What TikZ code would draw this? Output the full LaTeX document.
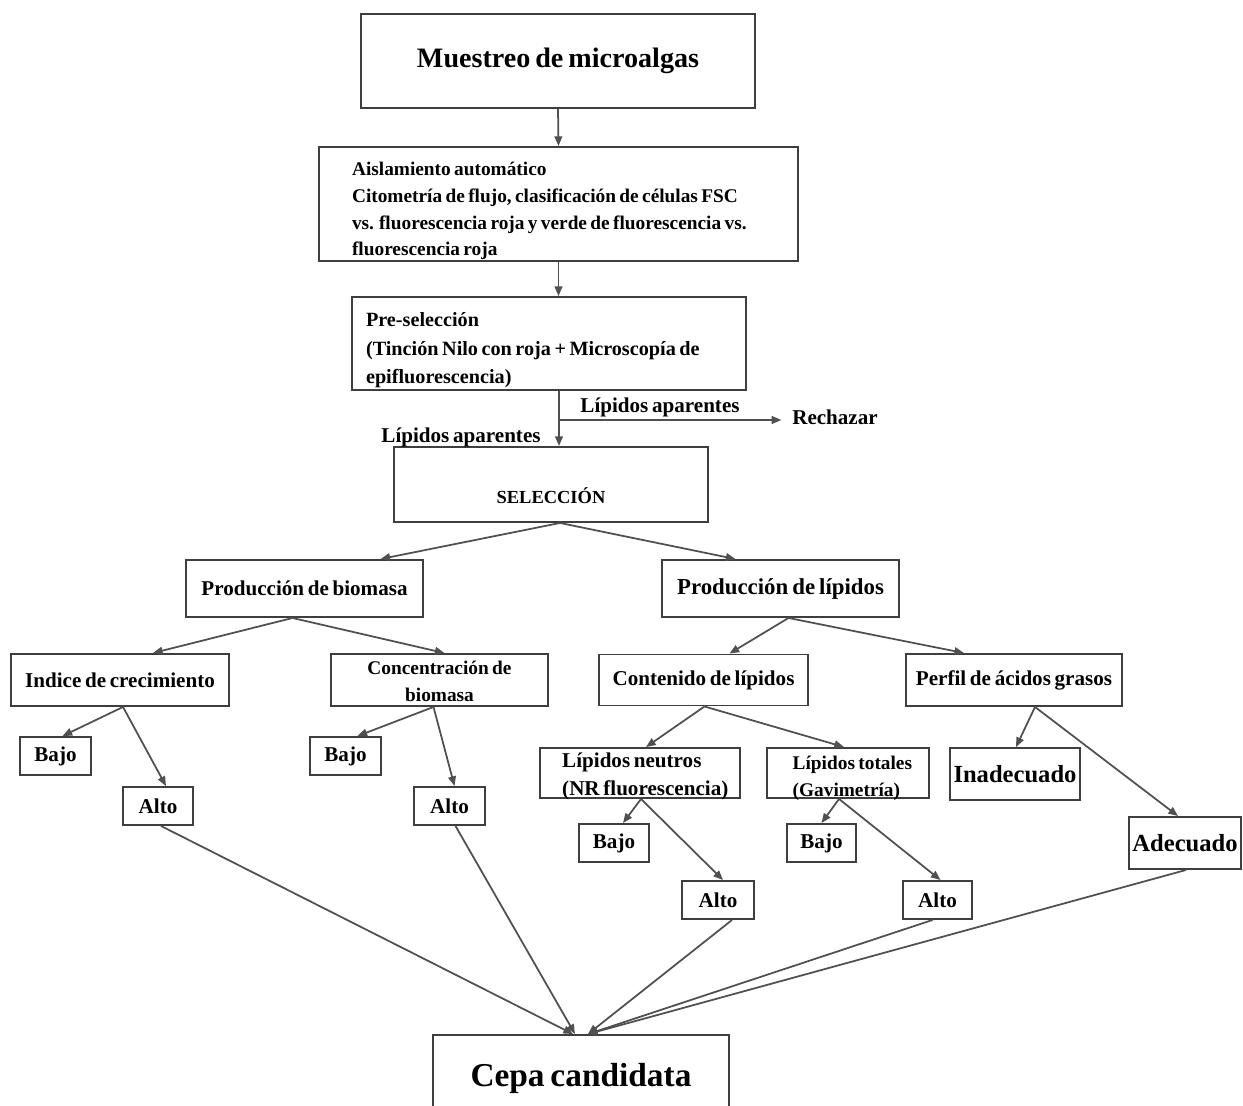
\documentclass[tikz,border=0pt]{standalone}
\usepackage{fontspec}
\setmainfont{Liberation Serif}[WordSpace=0.7]
\usetikzlibrary{arrows.meta,calc}
\definecolor{bordegris}{HTML}{3E3E3E}
\definecolor{lineagris}{HTML}{505050}
% texto de varias lineas, bajado a mano
\newcommand{\bloque}[3]{\raisebox{#1}[0pt][0pt]{\begin{tabular}{@{}#2@{}}#3\end{tabular}}}

\tikzset{
  caja/.style={draw=bordegris, line width=1.1pt, inner sep=0pt, font=\bfseries\fontsize{12}{14}\selectfont},
  tam/.style 2 args={minimum width=#1*0.02cm, minimum height=#2*0.02cm},
  conector/.style={draw=lineagris, line width=1pt},
  flecha/.style={conector, -{Triangle[length=5.5pt,width=4.4pt]}},
  etiqueta/.style={font=\bfseries\fontsize{12}{14}\selectfont, inner sep=0pt},
}

\begin{document}
\begin{tikzpicture}[x=0.02cm, y=-0.02cm]
\useasboundingbox (0,0) rectangle (1243,1105);
% parte superior
\node[caja, tam={394}{94}, font=\bfseries\fontsize{16}{19}\selectfont] (muestreo) at (558,61) {Muestreo de microalgas};
\node[caja, tam={479}{114}, font=\bfseries\fontsize{11}{15.3}\selectfont] (aislamiento) at (558.5,204) {\bloque{-6.3pt}{p{8.26cm}}{Aislamiento automático\\Citometría de flujo, clasificación de células FSC\\vs. fluorescencia roja y verde de fluorescencia vs.\\fluorescencia roja}};
\node[caja, tam={394}{93}, font=\bfseries\fontsize{11.5}{16.4}\selectfont] (presel) at (549,343.5) {\bloque{-6.3pt}{p{7.32cm}}{Pre-selección\\(Tinción Nilo con roja + Microscopía de\\epifluorescencia)}};
\node[caja, tam={314}{75}, font=\bfseries\fontsize{10.5}{12}\selectfont] (seleccion) at (551,484.5) {\raisebox{-11pt}[0pt][0pt]{SELECCIÓN}};
\node[etiqueta] (aparentesA) at (660,407) {Lípidos aparentes};
\node[etiqueta] (aparentesB) at (461,437) {Lípidos aparentes};
\node[etiqueta] (rechazar) at (835,417) {Rechazar};
% ramas de produccion
\node[caja, tam={237}{57}] (biomasa) at (304.5,588.5) {Producción de biomasa};
\node[caja, tam={237}{57}, font=\bfseries\fontsize{13}{15}\selectfont] (lipidos) at (780.5,588.5) {Producción de lípidos};
\node[caja, tam={218}{52}] (indice) at (120,680) {Indice de crecimiento};
\node[caja, tam={217}{52}, font=\bfseries\fontsize{11}{15}\selectfont] (concentracion) at (439.5,680) {\bloque{-4.3pt}{c}{Concentración de\\biomasa}};
\node[caja, tam={209}{51}] (contenido) at (703.5,680) {Contenido de lípidos};
\node[caja, tam={216}{52}] (perfil) at (1014,680) {Perfil de ácidos grasos};
% niveles
\node[caja, tam={71}{38}] (bajoA) at (55.5,756) {Bajo};
\node[caja, tam={70}{38}] (altoA) at (158,806) {Alto};
\node[caja, tam={71}{38}] (bajoB) at (345.5,756) {Bajo};
\node[caja, tam={71}{38}] (altoB) at (449.5,806) {Alto};
\node[caja, tam={200}{50}, font=\bfseries\fontsize{12}{15.9}\selectfont] (neutros) at (640,773) {\bloque{-4.5pt}{l}{\hspace*{6pt}Lípidos neutros\\\hspace*{6pt}(NR fluorescencia)}};
\node[caja, tam={162}{50}, font=\bfseries\fontsize{11}{15.3}\selectfont] (totales) at (848,773) {\bloque{-5.5pt}{l}{\hspace*{5pt}Lípidos totales\\\hspace*{5pt}(Gavimetría)}};
\node[caja, tam={130}{52}, font=\bfseries\fontsize{14}{16}\selectfont] (inadecuado) at (1015,774) {Inadecuado};
\node[caja, tam={112}{52}, font=\bfseries\fontsize{14}{16}\selectfont] (adecuado) at (1185,843) {Adecuado};
\node[caja, tam={70}{38}] (bajoC) at (614,843) {Bajo};
\node[caja, tam={72}{38}] (altoC) at (718,900) {Alto};
\node[caja, tam={69}{38}] (bajoD) at (821.5,843) {Bajo};
\node[caja, tam={69}{38}] (altoD) at (937.5,900) {Alto};
\node[caja, tam={296}{86}, font=\bfseries\fontsize{19}{22}\selectfont] (cepa) at (581,1078) {Cepa candidata};
% conectores
\draw[flecha] (muestreo.south) -- (aislamiento.north);
\draw[flecha] (aislamiento.south) -- (aislamiento.south |- presel.north);
\coordinate (rama) at (559,420);
\draw[conector] (presel.south -| rama) -- (rama);
\draw[flecha] (rama) -- (rama |- seleccion.north);
\draw[flecha, shorten >=6pt] (rama) -- (rama -| rechazar.west);
\coordinate (selS) at ($(seleccion.south)+(9,0)$);
\draw[flecha] (selS) -- ($(biomasa.north)+(76,0)$);
\draw[flecha] (selS) -- ($(lipidos.north)+(-45,0)$);
\draw[flecha] ($(biomasa.south)+(-12,0)$) -- ($(indice.north)+(33,0)$);
\draw[flecha] ($(biomasa.south)+(-12,0)$) -- ($(concentracion.north)+(5,0)$);
\draw[flecha] ($(lipidos.south)+(8,0)$) -- ($(contenido.north)+(26,0)$);
\draw[flecha] ($(lipidos.south)+(8,0)$) -- ($(perfil.north)+(-50,0)$);
\draw[flecha] ($(indice.south)+(3,0)$) -- ($(bajoA.north)+(7,0)$);
\draw[flecha] ($(indice.south)+(3,0)$) -- ($(altoA.north)+(8,0)$);
\draw[flecha] ($(concentracion.south)+(-6,0)$) -- ($(bajoB.north)+(12,0)$);
\draw[flecha] ($(concentracion.south)+(-6,0)$) -- ($(altoB.north)+(5,0)$);
\draw[flecha] ($(contenido.south)+(1,0)$) -- ($(neutros.north)+(6,0)$);
\draw[flecha] ($(contenido.south)+(1,0)$) -- ($(totales.north)+(-4,0)$);
\draw[flecha] ($(perfil.south)+(21,0)$) -- ($(inadecuado.north)+(1,0)$);
\draw[flecha] ($(perfil.south)+(21,0)$) -- ($(adecuado.north)+(-7,0)$);
\draw[flecha] ($(neutros.south)+(1,0)$) -- ($(bajoC.north)+(9,0)$);
\draw[flecha] ($(neutros.south)+(1,0)$) -- ($(altoC.north)+(5,0)$);
\draw[flecha] ($(totales.south)+(-9,0)$) -- (bajoD.north);
\draw[flecha] ($(totales.south)+(-9,0)$) -- ($(altoD.north)+(3,0)$);
% hacia la cepa candidata
\draw[flecha] ($(altoA.south)+(3,0)$) -- ($(cepa.north)+(-8,0)$);
\draw[flecha] ($(altoB.south)+(6,0)$) -- ($(cepa.north)+(-6,0)$);
\draw[flecha] ($(altoC.south)+(14,0)$) -- ($(cepa.north)+(7,0)$);
\draw[flecha] ($(altoD.south)+(-5,0)$) -- ($(cepa.north)+(7,0)$);
\draw[flecha] ($(adecuado.south)+(1,0)$) -- ($(cepa.north)+(7,0)$);
\end{tikzpicture}
\end{document}
